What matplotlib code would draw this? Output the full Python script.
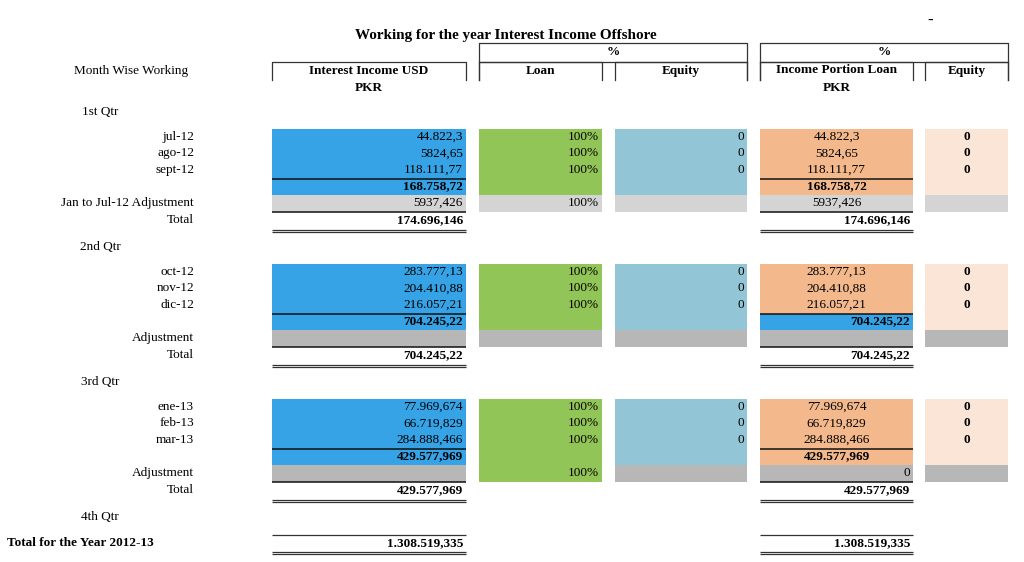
"""
Working for the year Interest Income Offshore - tabla estilo hoja de calculo.
"""
import matplotlib.pyplot as plt
from matplotlib.patches import Rectangle

# --- Datos ---
titulo = "Working for the year Interest Income Offshore"
trimestres = ["1st Qtr", "2nd Qtr", "3rd Qtr", "4th Qtr"]
meses = [
    ["jul-12", "ago-12", "sept-12"],
    ["oct-12", "nov-12", "dic-12"],
    ["ene-13", "feb-13", "mar-13"],
]
income_usd = [
    ["44.822,3", "5824,65", "118.111,77"],
    ["283.777,13", "204.410,88", "216.057,21"],
    ["77.969,674", "66.719,829", "284.888,466"],
]
loan_pct = ["100%", "100%", "100%"]
equity_pct = ["0", "0", "0"]
equity_pkr = ["0", "0", "0"]
subtotales = ["168.758,72", "704.245,22", "429.577,969"]
ajuste_labels = ["Jan to Jul-12 Adjustment", "Adjustment", "Adjustment"]
ajuste_usd = ["5937,426", "", ""]
ajuste_loan = ["100%", "", "100%"]
ajuste_pkr = ["5937,426", "", "0"]
totales = ["174.696,146", "704.245,22", "429.577,969"]
total_anual_label = "Total for the Year 2012-13"
total_anual = "1.308.519,335"

# --- Estilo ---
plt.rcParams["font.family"] = ["Liberation Serif", "DejaVu Serif"]
FS = 9.5
AZUL = "#36A3E6"
VERDE = "#92C557"
CELESTE = "#92C5D6"
NARANJA = "#F3B88B"
DURAZNO = "#FAE5D6"
GRIS = ["#D4D4D4", "#B7B7B7", "#B7B7B7"]
fill_ajuste_loan = [GRIS[0], GRIS[1], VERDE]
fill_sub_pkr = [NARANJA, AZUL, NARANJA]
ha_sub_pkr = ["center", "right", "center"]
ha_aj_pkr = ["center", "center", "right"]

COLS = {"A": (272, 466), "B": (479, 602), "C": (615, 747), "D": (760, 913), "E": (925, 1008)}
H = 16.6

fig = plt.figure(figsize=(10.24, 5.62), dpi=100)
ax = fig.add_axes([0, 0, 1, 1])
ax.set_xlim(0, 1024)
ax.set_ylim(562, 0)
ax.axis("off")


def celda(col, y0, nfilas, color):
    x0, x1 = COLS[col]
    ax.add_patch(Rectangle((x0, y0), x1 - x0, H * nfilas, facecolor=color, edgecolor="none"))


def texto(col, y, s, ha="right", bold=False):
    x0, x1 = COLS[col]
    x = {"right": x1 - 3, "center": (x0 + x1) / 2, "left": x0 + 3}[ha]
    ax.text(x, y, s, ha=ha, va="center", fontsize=FS, fontweight="bold" if bold else "normal")


def linea(col, y, lw=1.1, color="#111111"):
    x0, x1 = COLS[col]
    ax.plot([x0, x1], [y, y], color=color, lw=lw, solid_capstyle="butt")


def doble(col, y):
    linea(col, y, lw=0.9, color="#333333")
    linea(col, y + 2.2, lw=0.9, color="#333333")


# --- Encabezado ---
ax.text(506, 35, titulo, ha="center", va="center", fontsize=10.9, fontweight="bold")
ax.text(930, 21, "-", ha="center", va="center", fontsize=12, fontweight="bold")
ax.text(131, 71, "Month Wise Working", ha="center", va="center", fontsize=FS)
LC = "#333333"
for x0, x1 in [COLS["A"], COLS["B"], COLS["C"], COLS["D"], COLS["E"]]:
    ax.plot([x0, x0, x1, x1], [80, 62, 62, 80], color=LC, lw=0.9)
for a, b in [("B", "C"), ("D", "E")]:
    x0, x1 = COLS[a][0], COLS[b][1]
    ax.plot([x0, x0, x1, x1], [80, 43, 43, 80], color=LC, lw=0.9)
    ax.plot([x0, x1], [62, 62], color=LC, lw=0.9)
    ax.text((x0 + x1) / 2, 52, "%", ha="center", va="center", fontsize=FS, fontweight="bold")
for col, s in [("A", "Interest Income USD"), ("B", "Loan"), ("C", "Equity"),
               ("D", "Income Portion Loan"), ("E", "Equity")]:
    texto(col, 71 if col != "D" else 70, s, ha="center", bold=True)
texto("A", 88, "PKR", ha="center", bold=True)
texto("D", 88, "PKR", ha="center", bold=True)

# --- Trimestres ---
for q in range(4):
    top = 129 + 135 * q
    ax.text(100, top - 17, trimestres[q], ha="center", va="center", fontsize=FS)
    if q >= len(meses):
        continue
    yc = [top + H * (i + 0.5) - 0.5 for i in range(6)]

    celda("A", top, 4, AZUL)
    celda("A", top + 4 * H, 1, GRIS[q])
    celda("B", top, 4, VERDE)
    celda("B", top + 4 * H, 1, fill_ajuste_loan[q])
    celda("C", top, 4, CELESTE)
    celda("C", top + 4 * H, 1, GRIS[q])
    celda("D", top, 3, NARANJA)
    celda("D", top + 3 * H, 1, fill_sub_pkr[q])
    celda("D", top + 4 * H, 1, GRIS[q])
    celda("E", top, 4, DURAZNO)
    celda("E", top + 4 * H, 1, GRIS[q])

    for i in range(3):
        ax.text(194, yc[i], meses[q][i], ha="right", va="center", fontsize=FS)
        texto("A", yc[i], income_usd[q][i])
        texto("B", yc[i], loan_pct[i])
        texto("C", yc[i], equity_pct[i])
        texto("D", yc[i], income_usd[q][i], ha="center")
        texto("E", yc[i], equity_pkr[i], ha="center", bold=True)

    texto("A", yc[3], subtotales[q], bold=True)
    texto("D", yc[3], subtotales[q], ha=ha_sub_pkr[q], bold=True)

    ax.text(194, yc[4], ajuste_labels[q], ha="right", va="center", fontsize=FS)
    texto("A", yc[4], ajuste_usd[q])
    texto("B", yc[4], ajuste_loan[q])
    texto("D", yc[4], ajuste_pkr[q], ha=ha_aj_pkr[q])

    ax.text(194, yc[5], "Total", ha="right", va="center", fontsize=FS)
    texto("A", yc[5], totales[q], bold=True)
    texto("D", yc[5], totales[q], bold=True)

    for col in ["A", "D"]:
        linea(col, top + 3 * H)
        linea(col, top + 5 * H)
        doble(col, top + 6 * H + 1.5)

# --- Total anual ---
ytop = 129 + 135 * 3 + 1
ax.text(7, ytop + 8.5, total_anual_label, ha="left", va="center", fontsize=FS, fontweight="bold")
for col in ["A", "D"]:
    linea(col, ytop, lw=0.9, color="#333333")
    texto(col, ytop + 8.5, total_anual, bold=True)
    doble(col, ytop + 16.5)

fig.savefig("out.png", dpi=100)
